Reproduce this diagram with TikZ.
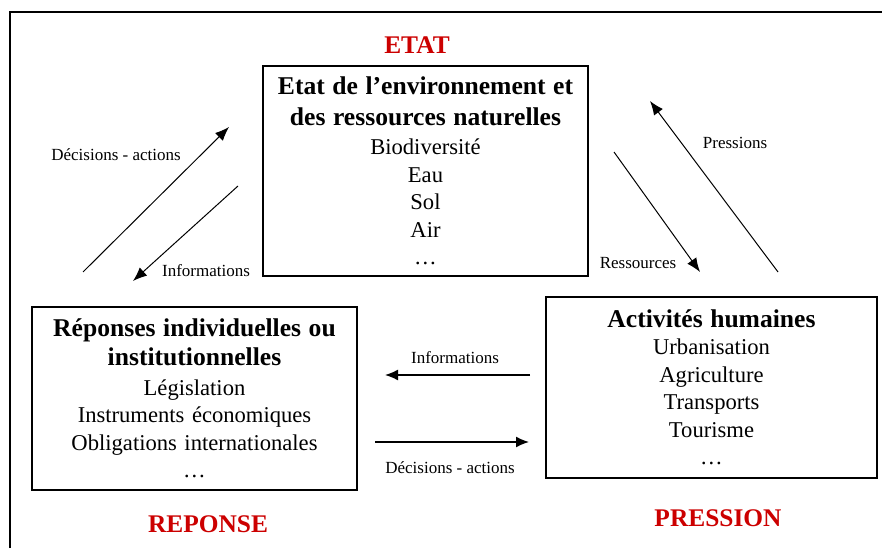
\documentclass[tikz,border=0pt]{standalone}
\usepackage{fontspec}
\setmainfont{Liberation Serif}
\usetikzlibrary{arrows.meta}
\definecolor{dpsirred}{RGB}{204,0,0}
\newcommand{\boxtext}{\fontsize{22.6}{27.5}\selectfont}
\newcommand{\boxhead}{\fontsize{25.6}{30}\selectfont\bfseries}
\tikzstyle{boxes} = [rectangle, draw=black, line width=1.2pt, inner sep=0pt, align=center, font=\boxtext]
\tikzstyle{redlabel} = [text=dpsirred, font=\fontsize{25.4}{30}\selectfont\bfseries]
\tikzstyle{small} = [font=\fontsize{17}{20}\selectfont]
\tikzstyle{arrow} = [line width=1pt, ->, >={Latex[length=14pt,width=11pt]}]
\tikzstyle{harrow} = [line width=1.5pt, ->, >={Latex[length=13pt,width=11pt]}]

\begin{document}
\begin{tikzpicture}[x=1pt, y=1pt]

    \useasboundingbox (0,0) rectangle (882,548);
    \draw[line width=1.5pt] (10,0) -- (10,536) -- (882,536);

    \node (etat) [boxes, text width=325pt, minimum height=210pt] at (425.5,377)
        {{\boxhead Etat de l'environnement et\\[3pt] des ressources naturelles}\\[2pt]
         Biodiversité\\ Eau\\ Sol\\ Air\\ \ldots};

    \node (reponse) [boxes, text width=325pt, minimum height=183pt, below of=etat, xshift=-231pt, yshift=-199pt]
        {{\boxhead Réponses individuelles ou\\[2pt] institutionnelles}\\[2pt]
         Législation\\ Instruments économiques\\ Obligations internationales\\ \ldots};

    \node (pression) [boxes, text width=331pt, minimum height=181pt, right of=reponse, xshift=488.55pt, yshift=11pt]
        {{\boxhead Activités humaines}\\
         Urbanisation\\ Agriculture\\ Transports\\ Tourisme\\ \ldots};

    \node (etatlbl) [redlabel] at (417,503) {ETAT};
    \node (reponselbl) [redlabel] at (208,24) {REPONSE};
    \node (pressionlbl) [redlabel] at (718,30) {PRESSION};

    % arrow ends
    \coordinate (da1) at (83,276);
    \coordinate (da2) at (229,421);
    \coordinate (in1) at (238,362);
    \coordinate (in2) at (133,267);
    \coordinate (re1) at (614,396);
    \coordinate (re2) at (700,276);
    \coordinate (pr1) at (778,276);
    \coordinate (pr2) at (650,447);
    \coordinate (ib1) at (530,173);
    \coordinate (ib2) at (385,173);
    \coordinate (db1) at (375,106);
    \coordinate (db2) at (529,106);

    \draw[arrow] (da1) -- (da2);
    \draw[arrow] (in1) -- (in2);
    \draw[arrow] (re1) -- (re2);
    \draw[arrow] (pr1) -- (pr2);
    \draw[harrow] (ib1) -- (ib2);
    \draw[harrow] (db1) -- (db2);

    \node (dalbl) [small] at (116,393) {Décisions - actions};
    \node (inlbl) [small] at (206,277) {Informations};
    \node (relbl) [small] at (638,285) {Ressources};
    \node (prlbl) [small] at (735,405) {Pressions};
    \node (iblbl) [small] at (455,190) {Informations};
    \node (dblbl) [small] at (450,80) {Décisions - actions};

\end{tikzpicture}
\end{document}
